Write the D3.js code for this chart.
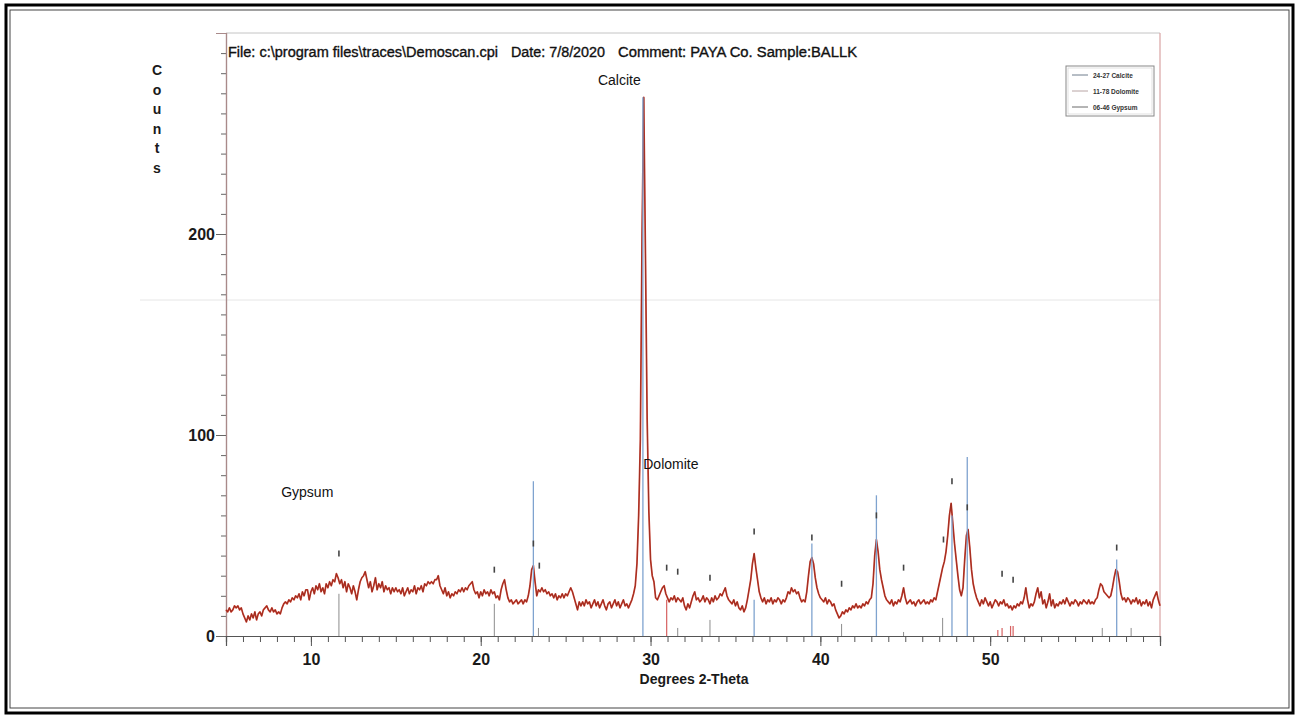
<!DOCTYPE html>
<html>
<head>
<meta charset="utf-8">
<script src="https://cdn.jsdelivr.net/npm/d3@7/dist/d3.min.js"></script>
<style>
  html, body { margin: 0; padding: 0; background: #fff; }
  svg { display: block; }
  text { font-family: "Liberation Sans", Arial, sans-serif; }
</style>
</head>
<body>
<svg id="chart" width="1299" height="719"></svg>
<script>
// ---------- data ----------
const scanStart = 5.0;   // first 2-theta of the scan
const scanStep = 0.1;    // 2-theta step of the scan
const counts = [
  13,12,14,12,13,15,14,15,13,14,   // 5
  11,9,7,10,8,11,9,12,8,11,        // 6
  12,10,13,14,15,13,12,14,12,13,   // 7
  11,12,11,14,16,17,16,18,17,19,   // 8
  18,20,19,21,18,22,20,23,23,18,   // 9
  22,24,21,25,23,26,22,24,21,26,   // 10
  24,27,25,28,27,31,29,26,28,24,   // 11
  27,22,26,24,21,25,22,18,23,27,   // 12
  29,30,32,28,24,27,22,25,29,23,   // 13
  26,24,27,22,25,23,24,21,24,22,   // 14
  24,22,23,21,24,20,22,24,21,23,   // 15
  22,25,21,24,23,25,22,26,25,27,   // 16
  26,27,26,28,28,30,25,23,21,24,   // 17
  20,22,19,21,20,22,21,23,22,24,   // 18
  22,24,23,25,26,27,23,21,22,19,   // 19
  22,20,23,21,22,20,23,21,22,19,   // 20
  20,18,23,26,28,23,19,17,18,16,   // 21
  17,18,16,17,18,16,18,17,20,25,   // 22
  33,35,27,20,23,22,24,22,23,21,   // 23
  22,20,21,19,21,18,20,19,21,19,   // 24
  21,20,22,24,22,19,16,13,17,15,   // 25
  17,15,18,16,17,14,16,18,15,17,   // 26
  14,16,18,15,13,16,17,14,16,18,   // 27
  15,17,14,16,18,15,16,14,16,18,   // 28
  21,25,36,60,98,200,268,190,108,62, // 29
  38,30,27,19,18,20,22,24,25,21,   // 30
  19,17,19,18,20,17,19,18,17,19,   // 31
  15,13,16,14,17,20,22,18,19,17,   // 32
  18,20,17,19,18,16,19,17,20,18,   // 33
  19,21,20,22,24,20,18,17,16,18,   // 34
  15,17,14,13,15,12,14,18,23,28,   // 35
  36,41,34,28,22,19,17,19,16,18,   // 36
  17,19,16,18,17,19,18,16,18,17,   // 37
  19,22,21,24,22,23,21,22,19,17,   // 38
  18,17,22,30,37,39,36,29,24,21,   // 39
  19,18,17,19,16,18,17,15,16,13,   // 40
  11,9,10,12,11,13,12,14,13,15,    // 41
  14,16,14,15,14,16,15,17,16,18,   // 42
  19,26,40,48,42,33,28,24,20,18,   // 43
  17,16,18,15,17,16,18,17,20,24,   // 44
  19,16,17,18,16,17,15,17,18,16,   // 45
  17,18,16,17,16,18,17,19,18,22,   // 46
  26,30,34,37,42,50,60,66,56,46,   // 47
  38,30,23,20,24,38,50,53,44,33,   // 48
  26,22,19,17,15,18,16,19,17,15,   // 49
  17,14,16,18,17,15,17,16,18,15,   // 50
  16,14,15,13,15,14,16,15,17,16,   // 51
  19,24,18,14,16,15,17,21,24,19,   // 52
  22,16,18,14,17,21,15,18,14,16,   // 53
  15,17,16,18,16,19,17,15,17,16,   // 54
  18,17,15,17,16,18,17,16,18,16,   // 55
  17,16,18,19,23,26,25,22,21,20,   // 56
  19,20,24,29,33,32,27,21,18,19,   // 57
  17,19,18,16,18,17,19,16,18,15,   // 58
  17,16,18,15,17,14,18,20,22,18,   // 59
  15                               // 60
];

// reference pattern sticks: [2-theta, counts]
const calciteSticks = [[23.1,77],[29.55,268],[36.1,18],[39.5,46],[43.3,70],[47.75,60],[48.65,89],[57.45,38]];
const dolomiteSticks = [[30.95,18],[50.45,3],[50.7,4],[51.2,5],[51.35,5]];
const gypsumSticks = [[11.65,21],[20.8,16],[23.4,4],[31.6,4],[33.5,8],[41.25,6],[44.9,2],[47.2,9],[56.6,4],[58.3,4]];

// peak markers above the trace: [2-theta, counts]
const peakMarkers = [[11.65,41],[20.8,33],[23.1,46],[23.45,35],[30.95,34],[31.6,32],[33.5,29],[36.1,52],
  [39.5,49],[41.25,26],[43.3,60],[44.9,34],[47.25,48],[47.75,77],[48.65,64],[50.7,31],[51.35,28],[57.45,44]];

const xMajorTicks = [10,20,30,40,50];
const yMajorTicks = [0,100,200];
const phaseLabels = [["Calcite",26.9,274],["Dolomite",29.57,83],["Gypsum",8.25,69]];
const legendItems = ["24-27 Calcite","11-78 Dolomite","06-46 Gypsum"];
const titleParts = ["File: c:\\program files\\traces\\Demoscan.cpi","Date: 7/8/2020","Comment: PAYA Co. Sample:BALLK"];

// ---------- drawing ----------
const svg = d3.select("#chart");
svg.append("rect").attr("width",1299).attr("height",719).attr("fill","#fff");

// scanned-page frame
svg.append("rect").attr("x",6).attr("y",5).attr("width",1287).attr("height",708)
  .attr("fill","none").attr("stroke","#000").attr("stroke-width",3);
svg.append("rect").attr("x",10).attr("y",10).attr("width",1279).attr("height",698)
  .attr("fill","none").attr("stroke","#444").attr("stroke-width",1);

const x = d3.scaleLinear().domain([5,60]).range([226,1160]);
const y = d3.scaleLinear().domain([0,300]).range([636,33]);

// faint scan line
svg.append("line").attr("x1",140).attr("x2",1160).attr("y1",300).attr("y2",300)
  .attr("stroke","#e6e6e6").attr("stroke-width",1);

// plot frame (top & right)
svg.append("line").attr("x1",x(5)).attr("x2",x(60)).attr("y1",y(300)).attr("y2",y(300))
  .attr("stroke","#c4c4c4").attr("stroke-width",1);
svg.append("line").attr("x1",x(60)).attr("x2",x(60)).attr("y1",y(300)).attr("y2",y(0))
  .attr("stroke","#d9a3a3").attr("stroke-width",1.2);

// y axis
const yMinor = svg.append("g").attr("transform",`translate(${x(5)},0)`)
  .call(d3.axisLeft(y).tickValues(d3.range(0,301,10)).tickSize(5).tickFormat(""));
const yMajor = svg.append("g").attr("transform",`translate(${x(5)},0)`)
  .call(d3.axisLeft(y).tickValues(yMajorTicks).tickSize(10).tickPadding(1));
[yMinor,yMajor].forEach(g=>{
  g.select(".domain").attr("stroke","#a98a8a").attr("stroke-width",1.2);
  g.selectAll(".tick line").attr("stroke","#666");
});
yMajor.selectAll("text").attr("font-size",16).attr("font-weight","bold").attr("fill","#1a1a1a")
  .attr("font-family","Liberation Sans, Arial, sans-serif");

// x axis
const xMinor = svg.append("g").attr("transform",`translate(0,${y(0)})`)
  .call(d3.axisBottom(x).tickValues(d3.range(5,61,1)).tickSize(6).tickFormat(""));
const xMajor = svg.append("g").attr("transform",`translate(0,${y(0)})`)
  .call(d3.axisBottom(x).tickValues(xMajorTicks).tickSize(10).tickPadding(8));
[xMinor,xMajor].forEach(g=>{
  g.select(".domain").attr("stroke","#555").attr("stroke-width",1.2);
  g.selectAll(".tick line").attr("stroke","#555");
});
xMajor.selectAll("text").attr("font-size",16).attr("font-weight","bold").attr("fill","#1a1a1a")
  .attr("font-family","Liberation Sans, Arial, sans-serif");

// sticks
function sticks(data,color,width){
  svg.append("g").selectAll("line").data(data).join("line")
    .attr("x1",d=>x(d[0])).attr("x2",d=>x(d[0]))
    .attr("y1",y(0)).attr("y2",d=>y(d[1]))
    .attr("stroke",color).attr("stroke-width",width);
}
sticks(gypsumSticks,"#8c8c8c",1);
sticks(dolomiteSticks,"#d66060",1.2);

// trace
const pts = counts.map((c,i)=>[scanStart+i*scanStep,c]);
const line = d3.line().x(d=>x(d[0])).y(d=>y(d[1]));
svg.append("path").datum(pts).attr("d",line).attr("fill","none")
  .attr("stroke","#c93a2a").attr("stroke-width",1.7).attr("stroke-linejoin","round");
svg.append("path").datum(pts).attr("d",line).attr("fill","none")
  .attr("stroke","#4a1a12").attr("stroke-width",0.6).attr("stroke-opacity",0.55);

sticks(calciteSticks,"#7fa3cf",1.3);

// peak markers
svg.append("g").selectAll("line").data(peakMarkers).join("line")
  .attr("x1",d=>x(d[0])).attr("x2",d=>x(d[0]))
  .attr("y1",d=>y(d[1])-3).attr("y2",d=>y(d[1])+3)
  .attr("stroke","#444").attr("stroke-width",1.6);

// phase labels
svg.append("g").selectAll("text").data(phaseLabels).join("text")
  .attr("x",d=>x(d[1])).attr("y",d=>y(d[2]))
  .attr("font-size",14).attr("fill","#111").text(d=>d[0]);

// title
const titleX = [228,511,618], titleW = [270,94,239];
svg.append("g").selectAll("text").data(titleParts).join("text")
  .attr("x",(d,i)=>titleX[i]).attr("y",57)
  .attr("textLength",(d,i)=>titleW[i]).attr("lengthAdjust","spacingAndGlyphs")
  .attr("font-size",14).attr("fill","#111").attr("stroke","#111").attr("stroke-width",0.35)
  .text(d=>d);

// axis titles
svg.append("text").attr("x",694).attr("y",684).attr("text-anchor","middle")
  .attr("font-size",14).attr("font-weight","bold").attr("fill","#1a1a1a").text("Degrees 2-Theta");
const yTitle = "Counts".split("");
svg.append("g").selectAll("text").data(yTitle).join("text")
  .attr("x",157).attr("y",(d,i)=>75+i*19.5).attr("text-anchor","middle")
  .attr("font-size",14).attr("font-weight","bold").attr("fill","#1a1a1a").text(d=>d);

// legend
const lg = svg.append("g");
lg.append("rect").attr("x",1066).attr("y",66).attr("width",88).attr("height",50)
  .attr("fill","#fff").attr("stroke","#888").attr("stroke-width",1);
lg.append("rect").attr("x",1068).attr("y",68).attr("width",84).attr("height",46)
  .attr("fill","none").attr("stroke","#ccc").attr("stroke-width",0.6);
const legendColors = ["#6f7c8c","#b8a4a4","#6a6a6a"];
legendItems.forEach((t,i)=>{
  const ly = 75 + i*16;
  lg.append("line").attr("x1",1072).attr("x2",1088).attr("y1",ly).attr("y2",ly)
    .attr("stroke",legendColors[i]).attr("stroke-width",1);
  lg.append("text").attr("x",1093).attr("y",ly+2.5).attr("font-size",6.5).attr("font-weight","bold")
    .attr("fill","#333").text(t);
});
</script>
</body>
</html>
